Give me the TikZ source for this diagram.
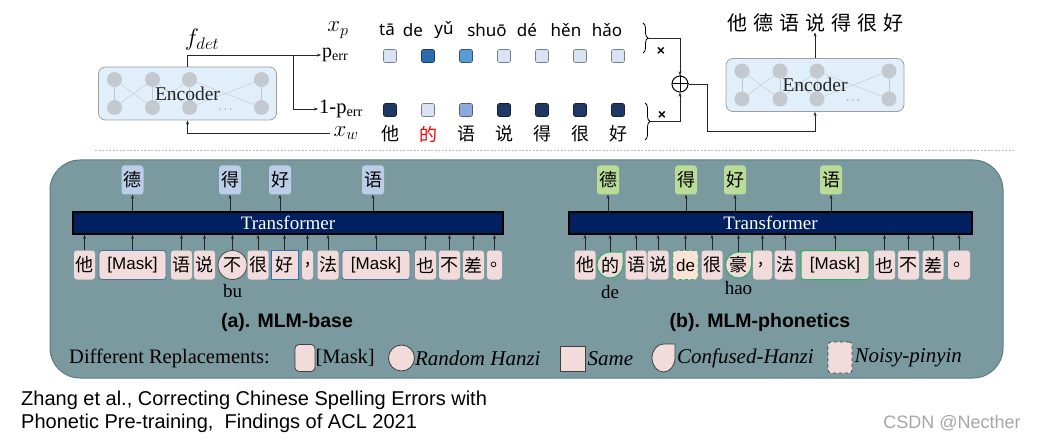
\RequirePackage{fix-cm}
\documentclass[tikz,border=0pt]{standalone}
\usepackage{fontspec}
\setmainfont{Liberation Serif}
\setsansfont{Liberation Sans}
\newfontfamily\cjk{Noto Sans CJK SC}
\newfontfamily\pyfont{Noto Sans}
\usetikzlibrary{arrows.meta,decorations.pathreplacing}

\definecolor{encblue}{HTML}{E1EFFA}
\definecolor{unitgray}{HTML}{C3C9CE}
\definecolor{pl}{HTML}{DAE3F3}
\definecolor{pm}{HTML}{5B9BD5}
\definecolor{pd}{HTML}{2E6AAE}
\definecolor{pn}{HTML}{203864}
\definecolor{pml}{HTML}{8EA9DB}
\definecolor{panel}{HTML}{7A9AA0}
\definecolor{panelline}{HTML}{5E7C82}
\definecolor{tokpink}{HTML}{F2DCDB}
\definecolor{noisypink}{HTML}{FBE4D6}
\definecolor{outblue}{HTML}{BCCDE8}
\definecolor{outgreen}{HTML}{BBDC96}
\definecolor{transnavy}{HTML}{002060}
\definecolor{mgreen}{HTML}{2EAF62}
\definecolor{mblue}{HTML}{4B6E9E}
\definecolor{sblue}{HTML}{2E75B6}

\tikzset{
  arr/.style={-{Stealth[length=4pt,width=3pt]}, line width=0.5pt, black!85},
  encbox/.style={draw=gray!75, fill=encblue, rounded corners=7pt, line width=0.8pt,
    minimum width=178pt, minimum height=53pt},
  enctxt/.style={font=\fontsize{19.5}{20}\selectfont, text=black!85},
  sqbox/.style={draw=#1!55!black, fill=#1, rounded corners=2pt, minimum size=13pt,
    inner sep=0pt, line width=0.6pt},
  cn/.style={font=\cjk\fontsize{18}{20}\selectfont, inner sep=0pt},
  tok/.style={cn, fill=tokpink, minimum width=21pt, minimum height=29pt, rounded corners=3pt},
  outa/.style={cn, fill=outblue, minimum width=22pt, minimum height=29pt, rounded corners=3pt},
  outb/.style={outa, fill=outgreen},
  trans/.style={draw=black, line width=1.6pt, fill=transnavy, text=white,
    font=\fontsize{19}{20}\selectfont, minimum height=22pt, inner sep=0pt},
  masktxt/.style={font=\sffamily\fontsize{17}{19}\selectfont},
  lbl/.style={font=\fontsize{19}{20}\selectfont, inner sep=0pt},
  lgd/.style={font=\fontsize{20.5}{22}\selectfont, anchor=west, inner sep=0pt},
  lgdit/.style={lgd, font=\itshape\fontsize{21}{22}\selectfont},
  lgdshape/.style={fill=tokpink, draw=black!75, line width=0.8pt, inner sep=0pt},
  conf/.style={fill=tokpink, draw=mgreen, line width=1pt},
  captxt/.style={font=\sffamily\bfseries\fontsize{19.5}{21}\selectfont}
}

\begin{document}
\begin{tikzpicture}[x=1pt, y=-1pt]
  \useasboundingbox (0,0) rectangle (1037,441);
  \fill[white] (0,0) rectangle (1037,441);

  % detector encoder
  \node[encbox] (encL) at (187.5,93.5) {};
  \node[encbox] (encR) at (815,85) {};
  \foreach \e in {encL, encR} {
    \foreach \a/\b in {-73/-73, -73/-35, -35/-73, -35/-35, -35/2, 2/-35, 2/2, 2/74, 74/2, 74/74}
      \draw[gray!45, line width=0.4pt] ([shift={(\a,14)}]\e.center) -- ([shift={(\b,-14)}]\e.center);
    \foreach \dx in {-73,-35,2,74} {
      \fill[unitgray] ([shift={(\dx,-14)}]\e.center) circle (7.5);
      \fill[unitgray] ([shift={(\dx,14)}]\e.center) circle (7.5);
    }
    \node[enctxt] at (\e.center) {Encoder};
    \node[text=gray, font=\fontsize{12}{12}\selectfont] at ([shift={(38,16)}]\e.center) {$\cdots$};
  }

  % labels of the top half
  \node[font=\fontsize{24}{26}\selectfont] (fdet) at (202,40) {$f_{det}$};
  \node[font=\fontsize{23}{25}\selectfont] (xp) at (338,30) {$x_p$};
  \node[font=\fontsize{23}{25}\selectfont] (xw) at (346,133) {$x_w$};
  \node[font=\fontsize{20}{22}\selectfont, anchor=west, inner sep=1pt] (perr) at (321,55) {p$_{\mathrm{err}}$};
  \node[font=\fontsize{20.5}{22}\selectfont, anchor=west, inner sep=1pt] (nperr) at (318,109) {1-p$_{\mathrm{err}}$};
  \coordinate (brk) at (293,55);
  \draw[arr] (encL.north) |- (perr.west);
  \draw[arr] (brk) |- (nperr.west);
  \draw[arr] (xw.west) -| (encL.south);

  % pinyin, probabilities and characters
  \foreach \py/\px in {tā/387, de/413, yǔ/444, shuō/487, dé/527, hěn/566, hǎo/607}
    \node[font=\pyfont\fontsize{17}{19}\selectfont, inner sep=0pt] at (\px,30) {\py};
  \foreach \c [count=\i] in {pl,pd,pm,pl,pl,pl,pl}
    \node[sqbox=\c] (u\i) at (352+38*\i,56) {};
  \foreach \c [count=\i] in {pn,pl,pml,pn,pn,pn,pn}
    \node[sqbox=\c] (w\i) at (352+38*\i,110) {};
  \foreach \h/\col [count=\i] in {他/black, 的/red, 语/black, 说/black, 得/black, 很/black, 好/black}
    \node[cn, text=\col] (h\i) at (352+38*\i,134) {\h};

  % mixing
  \draw[decorate, decoration={brace, amplitude=5pt}, line width=0.8pt] (643,23) -- (643,53);
  \draw[decorate, decoration={brace, amplitude=5pt}, line width=0.8pt] (645,103) -- (645,140);
  \coordinate (tipU) at (648,38);
  \coordinate (tipD) at (650,121.5);
  \node[circle, draw, line width=1pt, minimum size=16pt, inner sep=0pt] (plus) at (680,84) {};
  \draw[line width=1pt] (plus.north) -- (plus.south) (plus.west) -- (plus.east);
  \node[font=\sffamily\bfseries\fontsize{14}{14}\selectfont] at (661,51) {×};
  \node[font=\sffamily\bfseries\fontsize{14}{14}\selectfont] at (662,115) {×};
  \draw[arr] (tipU) -| (plus.north);
  \draw[arr] (tipD) -| (plus.south);
  \draw[arr] (plus.east) -| (707,131) -| (encR.south);
  \node[cn, font=\cjk\fontsize{20}{22}\selectfont] (outR) at (815,23)
    {他\hspace{6pt}德\hspace{6pt}语\hspace{6pt}说\hspace{6pt}得\hspace{6pt}很\hspace{6pt}好};
  \draw[arr] (encR.north) -- (outR.south);

  \draw[gray!55, dash pattern=on 2pt off 1.5pt, line width=0.8pt] (95,150) -- (1015,150);

  % pre-training panel
  \draw[panelline, fill=panel, line width=1pt, rounded corners=30pt] (50,160) rectangle (1003,378);

  % (a) MLM-base
  \node[trans, minimum width=430pt] (trA) at (288,223) {Transformer};
  \node[tok] (a1) at (84.5,265) {他};
  \node[tok, masktxt, minimum width=67pt, draw=mblue, line width=0.8pt] (a2) at (132.5,265) {[Mask]};
  \node[tok] (a3) at (181.5,265) {语};
  \node[tok] (a4) at (204.5,265) {说};
  \node[tok, circle, minimum size=29pt, draw=black!70, line width=0.8pt] (a5) at (232.5,265) {不};
  \node[tok] (a6) at (258,265) {很};
  \node[tok, sharp corners, minimum width=27pt, draw=sblue, line width=1pt] (a7) at (284.5,265) {好};
  \node[tok, minimum width=11pt] (a8) at (307.5,265) {,};
  \node[tok] (a9) at (328,265) {法};
  \node[tok, masktxt, minimum width=68pt, draw=mblue, line width=0.8pt] (a10) at (376,265) {[Mask]};
  \node[tok] (a11) at (425.5,265) {也};
  \node[tok] (a12) at (449.5,265) {不};
  \node[tok] (a13) at (473.5,265) {差};
  \node[tok, minimum width=15pt] (a14) at (494.5,265) {\makebox[9pt][l]{。}};
  \foreach \t in {a1,a2,a3,a4,a5,a6,a7,a8,a9,a10,a11,a12,a13,a14}
    \draw[arr] (\t.north) -- (\t.north |- trA.south);
  \node[lbl] (pya5) at (232.5,291) {bu};
  \node[outa] (oa1) at (132.5,180) {德};
  \node[outa] (oa2) at (230,180) {得};
  \node[outa] (oa3) at (280,180) {好};
  \node[outa] (oa4) at (373,180) {语};
  \foreach \o in {oa1,oa2,oa3,oa4}
    \draw[arr] (\o.south |- trA.north) -- (\o.south);
  \node[captxt] (capA) at (287,322) {(a). MLM-base};

  % (b) MLM-phonetics
  \node[trans, minimum width=403pt] (trB) at (770.5,223) {Transformer};
  \node[tok] (b1) at (585,265) {他};
  \path[conf] (623,265) -- (623,252) -- (610,252) arc[start angle=270, end angle=0, radius=13] -- cycle;
  \node[cn, minimum size=26pt] (b2) at (610,265) {的};
  \node[tok] (b3) at (636,265) {语};
  \node[tok] (b4) at (658,265) {说};
  \node[tok, masktxt, fill=noisypink, minimum width=25pt, draw=mgreen, dashed, line width=0.8pt] (b5) at (685.5,265) {de};
  \node[tok] (b6) at (712,265) {很};
  \path[conf] (751.5,265) -- (751.5,252) -- (738.5,252) arc[start angle=270, end angle=0, radius=13] -- cycle;
  \node[cn, minimum size=26pt] (b7) at (738.5,265) {豪};
  \node[tok, minimum width=19pt] (b8) at (762.5,265) {\makebox[8pt][l]{,}};
  \node[tok] (b9) at (785,265) {法};
  \node[tok, masktxt, minimum width=68pt, draw=mgreen, line width=1pt] (b10) at (835,265) {[Mask]};
  \node[tok] (b11) at (884.5,265) {也};
  \node[tok] (b12) at (908.5,265) {不};
  \node[tok] (b13) at (933,265) {差};
  \node[tok, minimum width=22pt] (b14) at (959,265) {\makebox[12pt][l]{。}};
  \foreach \t in {b1,b2,b3,b4,b5,b6,b7,b8,b9,b10,b11,b12,b13,b14}
    \draw[arr] (\t.north) -- (\t.north |- trB.south);
  \node[lbl] (pyb2) at (610,292) {de};
  \node[lbl] (pyb7) at (738.5,288) {hao};
  \node[outb] (ob1) at (608,180) {德};
  \node[outb] (ob2) at (686,180) {得};
  \node[outb] (ob3) at (735,180) {好};
  \node[outb] (ob4) at (831,180) {语};
  \foreach \o in {ob1,ob2,ob3,ob4}
    \draw[arr] (\o.south |- trB.north) -- (\o.south);
  \node[captxt] (capB) at (760,322) {(b). MLM-phonetics};

  % legend
  \node[lgd] (lg0) at (69,358) {Different Replacements:};
  \node[lgdshape, rounded corners=4pt, minimum width=20pt, minimum height=27pt] (lg1) at (305,358) {};
  \node[lgd] at (lg1.east) {[Mask]};
  \node[lgdshape, circle, minimum size=26pt] (lg2) at (401.5,358) {};
  \node[lgdit] at (lg2.east) {Random Hanzi};
  \node[lgdshape, minimum size=25pt] (lg3) at (572.5,359) {};
  \node[lgdit] at ([xshift=2pt]lg3.east) {Same};
  \path[lgdshape] (675,358) -- (675,344) -- (663.5,344) arc[start angle=270, end angle=0, x radius=11.5, y radius=14] -- cycle;
  \coordinate (lg4) at (675,358);
  \node[lgdit] at ([xshift=2pt]lg4) {Confused-Hanzi};
  \node[lgdshape, dashed, rounded corners=3pt, minimum width=24pt, minimum height=31pt] (lg5) at (840,357.5) {};
  \node[lgdit] at ([xshift=2pt]lg5.east) {Noisy-pinyin};

  % reference and watermark
  \node[font=\sffamily\fontsize{20}{23}\selectfont, anchor=west, align=left, inner sep=0pt] (cite) at (21,411.5)
    {Zhang et al., Correcting Chinese Spelling Errors with\\Phonetic Pre-training,\ \ Findings of ACL 2021};
  \node[font=\sffamily\fontsize{18}{19}\selectfont, text=gray!70, inner sep=0pt] (mark) at (952,423) {CSDN @Necther};
\end{tikzpicture}
\end{document}
